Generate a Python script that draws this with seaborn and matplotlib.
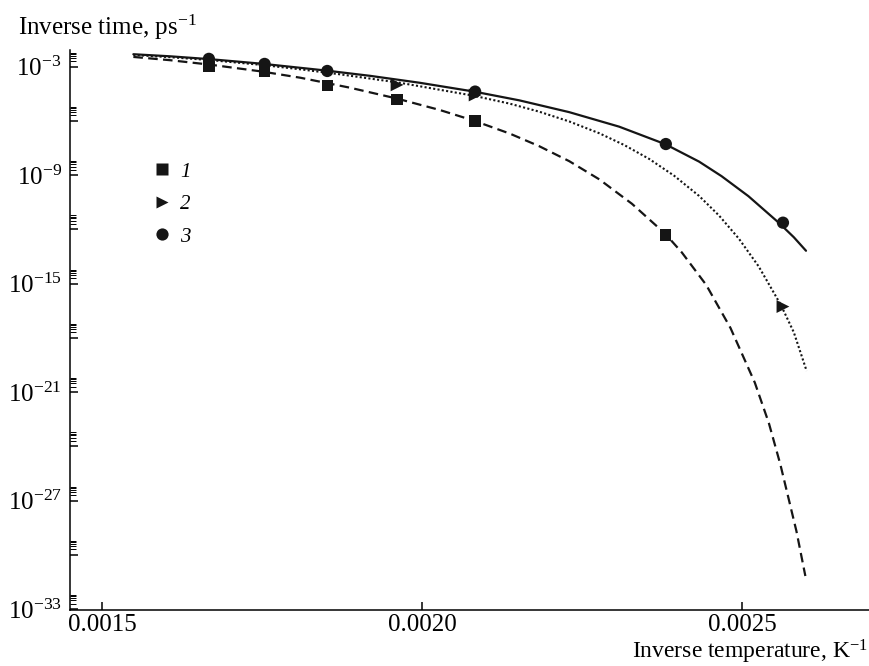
import numpy as np
import pandas as pd
import matplotlib
matplotlib.use("Agg")
import matplotlib.pyplot as plt
import matplotlib.ticker as mticker
from matplotlib.lines import Line2D
import seaborn as sns

# ---- data: x = inverse temperature (K^-1), values = log10(inverse time, ps^-1)
# markers
s1_x = [0.001667, 0.001754, 0.001852, 0.001961, 0.002083, 0.002381]
s1_log = [-2.99, -3.24, -4.04, -4.80, -6.00, -12.31]
s2_x = [0.001961, 0.002083, 0.002564]
s2_log = [-4.01, -4.57, -16.27]
s3_x = [0.001667, 0.001754, 0.001852, 0.002083, 0.002381, 0.002564]
s3_log = [-2.57, -2.85, -3.24, -4.38, -7.28, -11.63]

# fitted curves
c1_x = [0.001549, 0.001607, 0.001670, 0.001750, 0.001810, 0.001887, 0.001960,
        0.002028, 0.002081, 0.002137, 0.002183, 0.002230, 0.002277, 0.002328,
        0.002380, 0.002406, 0.002444, 0.002482, 0.002520, 0.002542, 0.002560,
        0.002585, 0.002599]
c1_log = [-2.463, -2.646, -2.895, -3.271, -3.614, -4.162, -4.759, -5.400,
          -5.987, -6.700, -7.397, -8.227, -9.233, -10.583, -12.242, -13.277,
          -15.069, -17.453, -20.473, -22.718, -25.008, -28.681, -31.170]
c2_x = [0.001549, 0.001607, 0.001670, 0.001750, 0.001810, 0.001872, 0.001965,
        0.002081, 0.002137, 0.002183, 0.002230, 0.002277, 0.002316, 0.002355,
        0.002394, 0.002433, 0.002464, 0.002495, 0.002526, 0.002561, 0.002581,
        0.002601]
c2_log = [-2.353, -2.480, -2.640, -2.906, -3.149, -3.426, -3.890, -4.610,
          -5.046, -5.489, -6.031, -6.684, -7.336, -8.105, -9.034, -10.152,
          -11.230, -12.508, -14.046, -16.197, -17.696, -19.831]
c3_x = [0.001549, 0.001607, 0.001670, 0.001750, 0.001850, 0.001919, 0.001996,
        0.002081, 0.002152, 0.002230, 0.002308, 0.002380, 0.002433, 0.002468,
        0.002510, 0.002558, 0.002581, 0.002600]
c3_log = [-2.314, -2.430, -2.591, -2.840, -3.216, -3.509, -3.890, -4.377,
          -4.864, -5.517, -6.319, -7.287, -8.254, -9.056, -10.163, -11.650,
          -12.436, -13.183]

legend_labels = ["1", "2", "3"]
xtick_vals = [0.0015, 0.0020, 0.0025]
ytick_exps = list(range(-3, -34, -3))
ylabel_exps = [-3, -9, -15, -21, -27, -33]

# ---- style
sns.set_theme(style="ticks")
plt.rcParams.update({
    "font.family": ["Liberation Serif", "DejaVu Serif"],
    "mathtext.fontset": "custom",
    "mathtext.rm": "Liberation Serif",
    "mathtext.it": "Liberation Serif:italic",
    "mathtext.bf": "Liberation Serif:bold",
    "axes.edgecolor": "black",
    "xtick.color": "black",
    "ytick.color": "black",
    "text.color": "black",
})

ink = "#151515"
fig = plt.figure(figsize=(8.7, 6.66), dpi=100)
ax = fig.add_axes([70 / 870, 56 / 666, 800 / 870, 560 / 666])
ax.set_yscale("log")


def frame(x, lg):
    return pd.DataFrame({"x": x, "y": 10.0 ** np.asarray(lg)})


sns.lineplot(data=frame(c1_x, c1_log), x="x", y="y", ax=ax, estimator=None,
             sort=False, color=ink, lw=1.6, linestyle=(0, (4.3, 2.4)), zorder=2)
sns.lineplot(data=frame(c2_x, c2_log), x="x", y="y", ax=ax, estimator=None,
             sort=False, color=ink, lw=1.5, linestyle=(0, (1, 1.1)), zorder=2)
sns.lineplot(data=frame(c3_x, c3_log), x="x", y="y", ax=ax, estimator=None,
             sort=False, color=ink, lw=1.6, linestyle="-", zorder=2)

sns.scatterplot(data=frame(s1_x, s1_log), x="x", y="y", ax=ax, marker="s",
                s=66, color=ink, edgecolor="none", zorder=3)
sns.scatterplot(data=frame(s2_x, s2_log), x="x", y="y", ax=ax, marker=">",
                s=85, color=ink, edgecolor="none", zorder=3)
sns.scatterplot(data=frame(s3_x, s3_log), x="x", y="y", ax=ax, marker="o",
                s=78, color=ink, edgecolor="none", zorder=4)

ax.set_xlim(0.00145, 0.0027)
ax.set_ylim(10.0 ** -33.05, 10.0 ** -2.08)

ax.xaxis.set_major_locator(mticker.FixedLocator(xtick_vals))
ax.xaxis.set_major_formatter(mticker.FormatStrFormatter("%.4f"))
ax.xaxis.set_minor_locator(mticker.NullLocator())

ax.yaxis.set_major_locator(mticker.FixedLocator([10.0 ** e for e in ytick_exps]))


def yfmt(v, pos):
    e = int(round(np.log10(v)))
    return r"$10^{%d}$" % e if e in ylabel_exps else ""


ax.yaxis.set_major_formatter(mticker.FuncFormatter(yfmt))
ax.yaxis.set_minor_locator(mticker.FixedLocator(
    [m * 10.0 ** e for e in ytick_exps for m in range(2, 7)]))
ax.yaxis.set_minor_formatter(mticker.NullFormatter())

ax.tick_params(which="major", direction="in", length=6, width=1.1,
               labelsize=18, pad=6)
ax.tick_params(axis="x", which="major", pad=3)
ax.tick_params(which="minor", direction="in", length=4.3, width=0.7)
for sp in ("left", "bottom"):
    ax.spines[sp].set_linewidth(1.1)
sns.despine(ax=ax)
ax.set_xlabel("")
ax.set_ylabel("")

handles = [
    Line2D([], [], ls="none", marker="s", ms=8.1, color=ink, mec="none"),
    Line2D([], [], ls="none", marker=">", ms=9.0, color=ink, mec="none"),
    Line2D([], [], ls="none", marker="o", ms=8.8, color=ink, mec="none"),
]
ax.legend(handles, legend_labels, loc="upper left",
          bbox_to_anchor=(0.1025, 0.800), frameon=False, borderpad=0,
          borderaxespad=0, handlelength=1.0, handletextpad=0.35,
          labelspacing=0.62, prop={"family": "Liberation Serif",
                                   "style": "italic", "size": 15})

fig.text(18 / 870, 1 - 35 / 666, r"Inverse time, ps$^{-1}$", fontsize=18,
         ha="left", va="baseline")
fig.text(868 / 870, 1 - 659 / 666, r"Inverse temperature, K$^{-1}$",
         fontsize=17, ha="right", va="baseline")

fig.savefig("out.png", dpi=100)
